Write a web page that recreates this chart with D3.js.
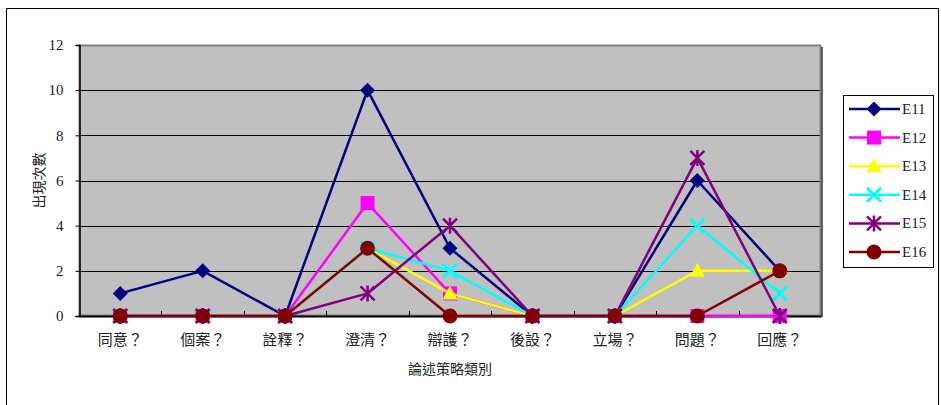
<!DOCTYPE html>
<html>
<head>
<meta charset="utf-8">
<script src="https://cdn.jsdelivr.net/npm/d3@7"></script>
<style>
  html, body { margin: 0; padding: 0; background: #fff; }
  svg { display: block; }
  text { font-family: "Liberation Serif", "Noto Sans CJK TC", serif; fill: #222; }
</style>
</head>
<body>
<svg id="chart" width="941" height="405"></svg>
<script>
// Categories of argument strategy and counts per interviewee
const categories = ["同意？", "個案？", "詮釋？", "澄清？", "辯護？", "後設？", "立場？", "問題？", "回應？"];
const seriesNames = ["E11", "E12", "E13", "E14", "E15", "E16"];
const E11 = [1, 2, 0, 10, 3, 0, 0, 6, 2];
const E12 = [0, 0, 0, 5, 1, 0, 0, 0, 0];
const E13 = [0, 0, 0, 3, 1, 0, 0, 2, 2];
const E14 = [0, 0, 0, 3, 2, 0, 0, 4, 1];
const E15 = [0, 0, 0, 1, 4, 0, 0, 7, 0];
const E16 = [0, 0, 0, 3, 0, 0, 0, 0, 2];
const yTicks = [0, 2, 4, 6, 8, 10, 12];
const yTitle = "出現次數";
const xTitle = "論述策略類別";

const seriesValues = [E11, E12, E13, E14, E15, E16];
const colors = ["#000080", "#FF00FF", "#FFFF00", "#00FFFF", "#800080", "#800000"];
const shapes = ["diamond", "square", "triangle", "x", "star", "circle"];

const svg = d3.select("#chart");
const plot = { left: 79, top: 45, right: 821, bottom: 316 };

// outer frame
svg.append("rect")
  .attr("x", 6.5).attr("y", 8.5).attr("width", 932).attr("height", 420)
  .attr("fill", "none").attr("stroke", "#000").attr("stroke-width", 1);

const x = d3.scaleBand().domain(categories).range([plot.left, plot.right]);
const y = d3.scaleLinear().domain([0, 12]).range([plot.bottom, plot.top]);

// plot background
svg.append("rect")
  .attr("x", plot.left).attr("y", plot.top)
  .attr("width", plot.right - plot.left).attr("height", plot.bottom - plot.top)
  .attr("fill", "#C0C0C0");

// gridlines
svg.append("g").selectAll("line").data(yTicks.filter(t => t > 0 && t < 12)).join("line")
  .attr("x1", plot.left).attr("x2", plot.right)
  .attr("y1", d => Math.round(y(d)) + 0.5).attr("y2", d => Math.round(y(d)) + 0.5)
  .attr("stroke", "#000").attr("stroke-width", 1);

// plot border
svg.append("rect")
  .attr("x", plot.left + 0.5).attr("y", plot.top + 0.5)
  .attr("width", plot.right - plot.left - 1).attr("height", plot.bottom - plot.top - 1)
  .attr("fill", "none").attr("stroke", "#808080").attr("stroke-width", 2);
svg.append("line")
  .attr("x1", plot.right + 1).attr("x2", plot.right + 1)
  .attr("y1", plot.top + 2).attr("y2", plot.bottom + 1)
  .attr("stroke", "#333").attr("stroke-width", 1.5);

// y axis
const yAxis = d3.axisLeft(y).tickValues(yTicks).tickSize(4).tickPadding(12).tickFormat(d3.format("d"));
const gy = svg.append("g").attr("transform", `translate(${plot.left + 0.5},0)`).call(yAxis);
gy.select(".domain").attr("stroke", "#000").attr("stroke-width", 1.5);
gy.selectAll(".tick line").attr("stroke", "#000");
gy.selectAll(".tick text").style("font-size", "15px").attr("fill", "#222");

// x axis with category-boundary ticks pointing inward
const xAxis = d3.axisBottom(x).tickSize(0).tickPadding(18);
const gx = svg.append("g").attr("transform", `translate(0,${plot.bottom})`).call(xAxis);
gx.select(".domain").attr("stroke", "#000").attr("stroke-width", 2);
gx.selectAll(".tick text").style("font-size", "15px").attr("fill", "#333");
svg.append("g").selectAll("line").data(categories.slice(1)).join("line")
  .attr("x1", d => Math.round(x(d)) + 0.5).attr("x2", d => Math.round(x(d)) + 0.5)
  .attr("y1", plot.bottom - 5).attr("y2", plot.bottom)
  .attr("stroke", "#000").attr("stroke-width", 1);

// axis titles
svg.append("text")
  .attr("transform", `translate(44,${(plot.top + plot.bottom) / 2}) rotate(-90)`)
  .attr("text-anchor", "middle").style("font-size", "14px").text(yTitle);
svg.append("text")
  .attr("x", 450).attr("y", 374)
  .attr("text-anchor", "middle").style("font-size", "14px").text(xTitle);

// marker drawing
function marker(g, shape, color, cx, cy) {
  const s = 7;
  if (shape === "diamond") {
    g.append("path").attr("d", `M${cx},${cy - 7.5}L${cx + 7.5},${cy}L${cx},${cy + 7.5}L${cx - 7.5},${cy}Z`).attr("fill", color);
  } else if (shape === "square") {
    g.append("rect").attr("x", cx - 7).attr("y", cy - 7).attr("width", 14).attr("height", 14).attr("fill", color);
  } else if (shape === "triangle") {
    g.append("path").attr("d", `M${cx},${cy - 8}L${cx + 7.5},${cy + 6}L${cx - 7.5},${cy + 6}Z`).attr("fill", color);
  } else if (shape === "x") {
    g.append("path").attr("d", `M${cx - s},${cy - s}L${cx + s},${cy + s}M${cx + s},${cy - s}L${cx - s},${cy + s}`)
      .attr("stroke", color).attr("stroke-width", 3).attr("fill", "none");
  } else if (shape === "star") {
    g.append("path").attr("d", `M${cx - s},${cy - s}L${cx + s},${cy + s}M${cx + s},${cy - s}L${cx - s},${cy + s}M${cx},${cy - s - 1}L${cx},${cy + s + 1}`)
      .attr("stroke", color).attr("stroke-width", 2.5).attr("fill", "none");
  } else if (shape === "circle") {
    g.append("circle").attr("cx", cx).attr("cy", cy).attr("r", 7.5).attr("fill", color);
  }
}

// series lines and markers
const line = d3.line()
  .x((d, i) => x(categories[i]) + x.bandwidth() / 2)
  .y(d => y(d));

seriesValues.forEach((vals, si) => {
  const g = svg.append("g");
  g.append("path").datum(vals).attr("d", line)
    .attr("fill", "none").attr("stroke", colors[si]).attr("stroke-width", 2.5)
    .attr("stroke-linejoin", "round");
  vals.forEach((v, i) => marker(g, shapes[si], colors[si], x(categories[i]) + x.bandwidth() / 2, y(v)));
});

// legend
const lg = svg.append("g");
lg.append("rect").attr("x", 843.5).attr("y", 95.5).attr("width", 90).attr("height", 172)
  .attr("fill", "#fff").attr("stroke", "#000").attr("stroke-width", 1);
seriesNames.forEach((name, i) => {
  const cy = 109 + i * 28.6;
  lg.append("line").attr("x1", 849).attr("x2", 900).attr("y1", cy).attr("y2", cy)
    .attr("stroke", colors[i]).attr("stroke-width", 2.5);
  marker(lg, shapes[i], colors[i], 874, cy);
  lg.append("text").attr("x", 902).attr("y", cy + 5).style("font-size", "15px").text(name);
});
</script>
</body>
</html>
